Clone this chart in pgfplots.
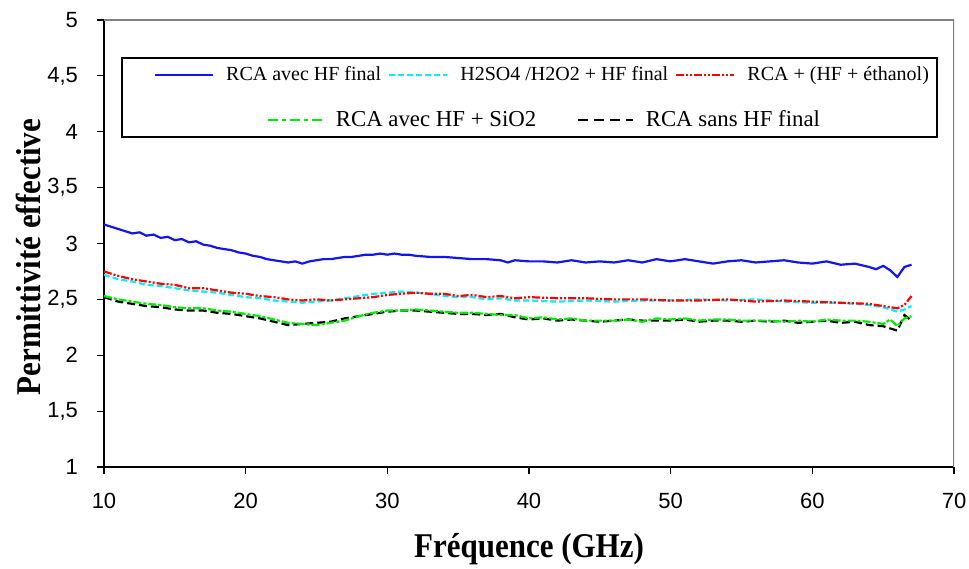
\documentclass[border=0pt]{standalone}
\usepackage{fontspec}
\setmainfont{Liberation Serif}
\newfontfamily\arial{Liberation Sans}
\usepackage{pgfplots}
\pgfplotsset{compat=1.18}
\definecolor{cblue}{RGB}{20,20,240}
\definecolor{ccyan}{RGB}{0,240,255}
\definecolor{cred}{RGB}{255,0,0}
\definecolor{cgreen}{RGB}{0,235,0}
\begin{document}
\begin{tikzpicture}
\begin{axis}[
  name=ax, at={(0,0)}, anchor=south west,
  scale only axis, width=425pt, height=223.5pt,
  xmin=10, xmax=70, ymin=1, ymax=5,
  xtick={10,20,...,70}, ytick={1,1.5,...,5},
  axis lines*=left, axis line style={-, black, line width=0.8pt},
  tick align=outside, major tick length=3.5pt,
  tick style={black, line width=0.6pt},
  /pgf/number format/use comma,
  /pgf/number format/assume math mode=true,
  ticklabel style={font=\arial\fontsize{11}{13}\selectfont},
  xticklabel style={yshift=-6pt},
  yticklabel style={xshift=-6pt},
  xlabel={\scalebox{1}[1.12]{Fréquence (GHz)}}, ylabel={\scalebox{1}[1.12]{Permittivité effective}},
  xlabel style={font=\bfseries\fontsize{15.5}{18}\selectfont, at={(axis description cs:0.5,-0.184)}, anchor=center},
  ylabel style={font=\bfseries\fontsize{15.5}{18}\selectfont, at={(axis description cs:-0.0894,0.47)}, anchor=center},
  legend columns=3,
  legend style={draw=none, fill=none, at={(rel axis cs:0.517,0.877)}, anchor=center,
    font=\fontsize{10}{12}\selectfont,
    /tikz/every odd column/.append style={column sep=4pt},
    /tikz/every even column/.append style={column sep=1.5pt}},
  legend image code/.code={\draw[#1] (0pt,0pt) -- (29pt,0pt);},
]
\draw[gray, line width=0.8pt] (rel axis cs:0,1) -- (rel axis cs:1,1) -- (rel axis cs:1,0);
\draw[black, line width=0.8pt] (rel axis cs:0.0212,0.738) rectangle (rel axis cs:0.98,0.915);

\addplot[cblue, line width=1.1pt] coordinates {
(10,3.17)(10.5,3.15)(11,3.13)(11.5,3.11)(12,3.09)(12.5,3.10)(13,3.07)(13.5,3.08)(14,3.05)(14.5,3.06)
(15,3.03)(15.5,3.04)(16,3.01)(16.5,3.02)(17,2.99)(17.5,2.98)(18,2.96)(18.5,2.95)(19,2.94)(19.5,2.92)
(20,2.91)(20.5,2.89)(21,2.88)(21.5,2.86)(22,2.85)(22.5,2.84)(23,2.83)(23.5,2.84)(24,2.82)(24.5,2.84)
(25,2.85)(25.5,2.86)(26,2.86)(26.5,2.87)(27,2.88)(27.5,2.88)(28,2.89)(28.5,2.90)(29,2.90)(29.5,2.91)
(30,2.90)(30.5,2.91)(31,2.90)(31.5,2.90)(32,2.89)(33,2.88)(34,2.88)(35,2.87)(36,2.86)(37,2.86)
(38,2.85)(38.5,2.83)(39,2.85)(40,2.84)(41,2.84)(42,2.83)(43,2.85)(44,2.83)(45,2.84)(46,2.83)
(47,2.85)(48,2.83)(49,2.86)(50,2.84)(51,2.86)(52,2.84)(53,2.82)(54,2.84)(55,2.85)(56,2.83)
(57,2.84)(58,2.85)(59,2.83)(60,2.82)(61,2.84)(62,2.81)(63,2.82)(64,2.79)(64.5,2.77)(65,2.80)
(65.5,2.76)(66,2.70)(66.5,2.79)(67,2.81)};
\addlegendentry{RCA avec HF final}

\addplot[ccyan, line width=1.1pt, dash pattern=on 3pt off 1.5pt] coordinates {
(10,2.72)(11,2.68)(12,2.66)(13,2.63)(14,2.62)(15,2.60)(16,2.58)(17,2.57)(18,2.56)(19,2.54)
(20,2.52)(21,2.51)(22,2.49)(23,2.48)(24,2.47)(25,2.48)(26,2.49)(27,2.51)(28,2.53)(29,2.55)
(30,2.56)(31,2.57)(32,2.56)(33,2.55)(34,2.53)(35,2.52)(36,2.52)(37,2.50)(38,2.51)(39,2.49)
(40,2.49)(42,2.48)(44,2.49)(46,2.48)(48,2.49)(50,2.49)(52,2.50)(54,2.49)(56,2.50)(58,2.48)
(60,2.47)(62,2.47)(64,2.45)(65,2.43)(66,2.39)(66.5,2.41)(67,2.44)};
\addlegendentry{H2SO4 /H2O2 + HF final}

\addplot[cred, line width=1.1pt, dash pattern=on 4pt off 1pt on 1pt off 1pt on 1pt off 1pt] coordinates {
(10,2.75)(11,2.71)(12,2.68)(13,2.66)(14,2.64)(15,2.63)(16,2.60)(17,2.60)(18,2.58)(19,2.56)
(20,2.55)(21,2.53)(22,2.52)(23,2.50)(24,2.49)(25,2.50)(26,2.49)(27,2.50)(28,2.51)(29,2.52)
(30,2.54)(31,2.55)(32,2.56)(33,2.55)(34,2.55)(35,2.53)(36,2.54)(37,2.52)(38,2.53)(39,2.51)
(40,2.52)(42,2.51)(44,2.51)(46,2.50)(48,2.50)(50,2.49)(52,2.49)(54,2.50)(56,2.48)(58,2.49)
(60,2.48)(62,2.47)(64,2.46)(65,2.44)(66,2.42)(66.5,2.45)(67,2.53)};
\addlegendentry{RCA + (HF + éthanol)}

\addplot[black, line width=1.1pt, dash pattern=on 4pt off 2pt, forget plot] coordinates {
(10,2.52)(11,2.48)(12,2.46)(13,2.44)(14,2.43)(15,2.41)(16,2.40)(17,2.40)(18,2.38)(19,2.37)
(20,2.35)(21,2.33)(22,2.30)(23,2.27)(24,2.28)(25,2.29)(26,2.30)(27,2.33)(28,2.35)(29,2.37)
(30,2.39)(31,2.40)(32,2.40)(33,2.39)(34,2.38)(35,2.37)(36,2.37)(37,2.36)(38,2.37)(39,2.34)
(40,2.32)(41,2.33)(42,2.31)(43,2.32)(44,2.31)(45,2.30)(46,2.31)(47,2.32)(48,2.31)(49,2.31)
(50,2.31)(51,2.32)(52,2.30)(53,2.31)(54,2.31)(55,2.30)(56,2.31)(57,2.30)(58,2.31)(59,2.29)
(60,2.30)(61,2.31)(62,2.29)(63,2.30)(64,2.27)(65,2.26)(65.5,2.24)(66,2.22)(66.5,2.36)(67,2.31)};

\addplot[cgreen, line width=1.1pt, dash pattern=on 4pt off 1pt on 1.5pt off 1pt, forget plot] coordinates {
(10,2.53)(11,2.50)(12,2.48)(13,2.46)(14,2.45)(15,2.43)(16,2.42)(17,2.42)(18,2.40)(19,2.39)
(20,2.37)(21,2.35)(22,2.32)(23,2.29)(24,2.28)(25,2.27)(26,2.29)(27,2.31)(28,2.35)(29,2.38)
(30,2.40)(31,2.40)(32,2.41)(33,2.40)(34,2.39)(35,2.38)(36,2.38)(37,2.37)(38,2.36)(39,2.36)
(40,2.33)(41,2.34)(42,2.32)(43,2.33)(44,2.31)(45,2.31)(46,2.31)(47,2.32)(48,2.30)(49,2.33)
(50,2.32)(51,2.33)(52,2.31)(53,2.32)(54,2.32)(55,2.31)(56,2.31)(57,2.31)(58,2.30)(59,2.31)
(60,2.30)(61,2.32)(62,2.31)(63,2.31)(64,2.30)(65,2.28)(65.5,2.32)(66,2.26)(66.5,2.33)(67,2.35)};
\end{axis}
\begin{axis}[
  at={(0,0)}, anchor=south west,
  scale only axis, width=425pt, height=223.5pt,
  xmin=10, xmax=70, ymin=1, ymax=5, hide axis,
  legend columns=2,
  legend style={draw=none, fill=none, at={(rel axis cs:0.519,0.776)}, anchor=center,
    font=\fontsize{11.4}{13.5}\selectfont,
    /tikz/every odd column/.append style={column sep=4pt},
    /tikz/every even column/.append style={column sep=18pt}},
  legend image code/.code={\draw[#1] (0pt,0pt) -- (27.5pt,0pt);},
]
\addlegendimage{cgreen, line width=1.3pt, dash pattern=on 5pt off 2pt on 2pt off 2pt}
\addlegendentry{RCA avec HF + SiO2}
\addlegendimage{black, line width=1.3pt, dash pattern=on 5pt off 3pt}
\addlegendentry{RCA sans HF final}
\end{axis}
\pgfresetboundingbox
\path (-52pt,-50.5pt) rectangle (432.5pt,233.5pt);
\end{tikzpicture}
\end{document}
